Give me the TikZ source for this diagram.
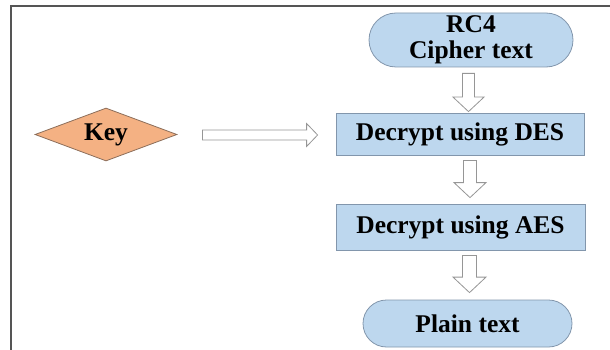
\documentclass[tikz,border=0pt]{standalone}
\usepackage{fontspec}
\setmainfont{Liberation Serif}
\usetikzlibrary{shapes.geometric,shapes.misc,calc}
\definecolor{boxblue}{RGB}{189,215,238}
\definecolor{boxline}{RGB}{130,150,172}
\definecolor{keyfill}{RGB}{244,177,131}
\definecolor{keyline}{RGB}{140,110,90}
\definecolor{arrline}{RGB}{150,150,150}
\definecolor{framecol}{RGB}{85,85,85}
\newcommand\vblockarrow[5]{% start, tip, shaft half, head half, head length
  \draw[blockarrow] let \p1=#1, \p2=#2 in
    (\x1-#3pt,\y1) -- (\x1+#3pt,\y1) -- (\x1+#3pt,\y2+#5pt) -- (\x1+#4pt,\y2+#5pt)
    -- (\x1,\y2) -- (\x1-#4pt,\y2+#5pt) -- (\x1-#3pt,\y2+#5pt) -- cycle;}
\newcommand\hblockarrow[5]{% start, tip, shaft half, head half, head length
  \draw[blockarrow] let \p1=#1, \p2=#2 in
    (\x1,\y1-#3pt) -- (\x2-#5pt,\y1-#3pt) -- (\x2-#5pt,\y1-#4pt) -- (\x2,\y1)
    -- (\x2-#5pt,\y1+#4pt) -- (\x2-#5pt,\y1+#3pt) -- (\x1,\y1+#3pt) -- cycle;}
\begin{document}
\begin{tikzpicture}[x=1pt,y=-1pt,
  every node/.style={font=\bfseries\fontsize{25.5}{26}\selectfont, inner sep=0pt},
  procbox/.style={rectangle, draw=boxline, fill=boxblue, line width=0.8pt},
  termbox/.style={rounded rectangle, draw=boxline, fill=boxblue, line width=0.8pt, align=center},
  keybox/.style={diamond, aspect=2.68, draw=keyline, fill=keyfill, line width=0.8pt},
  blockarrow/.style={draw=arrline, fill=white, line width=0.8pt, line join=miter}]
\useasboundingbox (0,0) rectangle (610,350);
\draw[framecol, line width=2pt] (11,352) -- (11,6) -- (612,6);

\node[termbox, minimum width=204pt, minimum height=54pt] (rc4) at (471,40) {RC4\\Cipher text};
\node[procbox, minimum width=248pt, minimum height=42pt] (des) at (460,134) {Decrypt using DES};
\node[procbox, minimum width=249pt, minimum height=46pt] (aes) at (460.5,227) {Decrypt using AES};
\node[termbox, minimum width=209pt, minimum height=47pt] (plain) at (467.5,323.5) {Plain text};
\node[keybox, minimum width=142pt, minimum height=53pt] (key) at (106,134.5) {Key};

\coordinate (a1s) at ($(rc4.south)+(-2.5,6)$);
\coordinate (a1e) at ($(a1s |- des.north)+(0,-1)$);
\coordinate (a2s) at ($(des.south)+(10,5)$);
\coordinate (a2e) at ($(a2s |- aes.north)+(0,-6)$);
\coordinate (a3s) at ($(aes.south)+(9,5)$);
\coordinate (a3e) at ($(a3s |- plain.north)+(0,-7)$);
\coordinate (hs) at ($(key.east)+(25,0.5)$);
\coordinate (he) at ($(hs -| des.west)+(-18,0)$);

\vblockarrow{(a1s)}{(a1e)}{6}{15.5}{14.5}
\vblockarrow{(a2s)}{(a2e)}{6.5}{16}{15}
\vblockarrow{(a3s)}{(a3e)}{7}{16.5}{15.5}
\hblockarrow{(hs)}{(he)}{5}{11.5}{11}
\end{tikzpicture}
\end{document}
